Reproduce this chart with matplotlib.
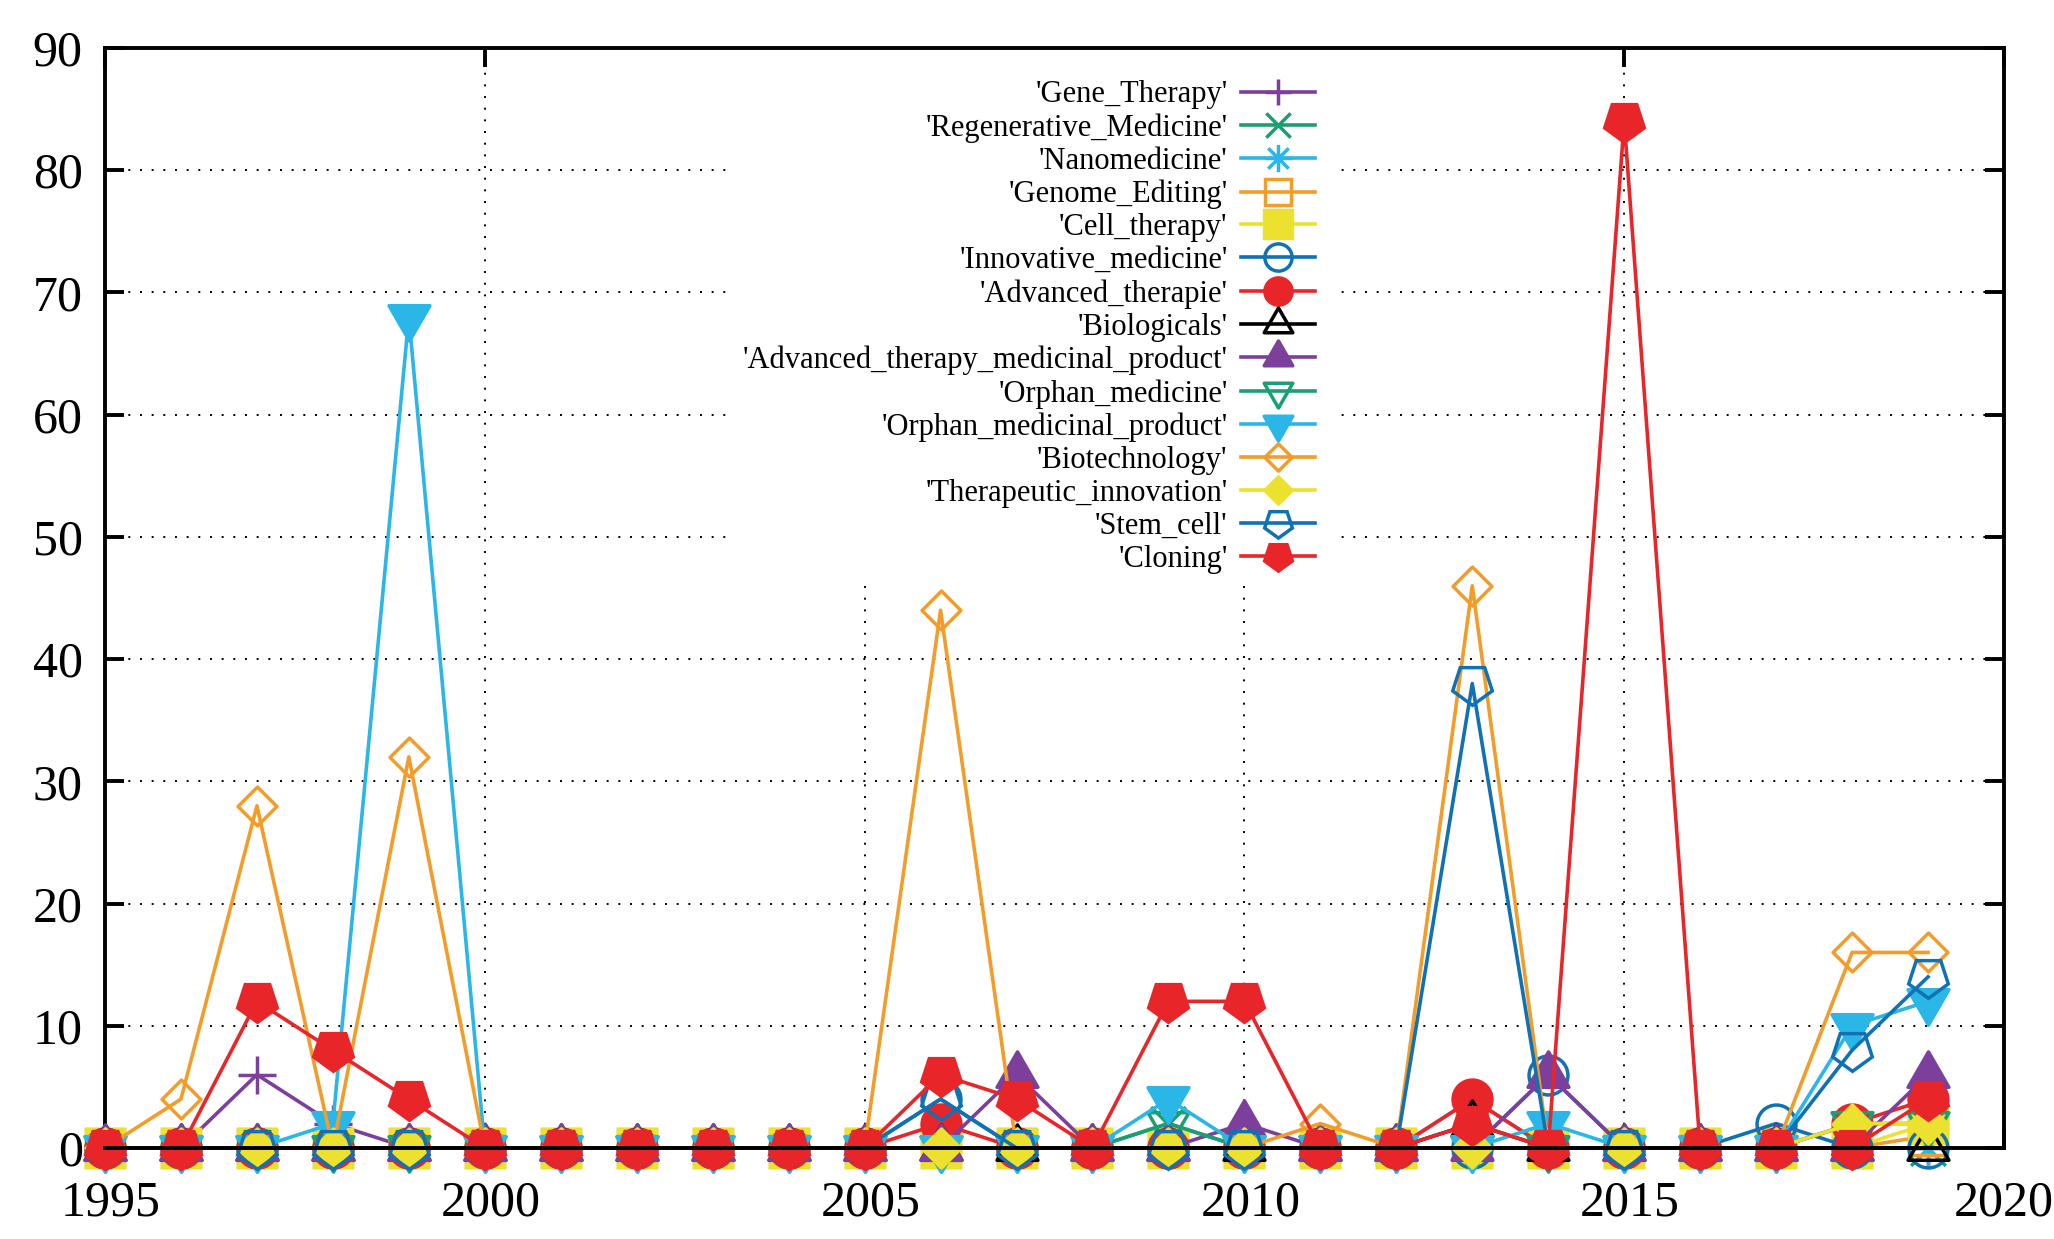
import matplotlib
matplotlib.use('Agg')
import matplotlib.pyplot as plt
from matplotlib.path import Path
from matplotlib.patches import Rectangle
from matplotlib.transforms import ScaledTranslation

plt.rcParams['font.family'] = ['Liberation Serif', 'DejaVu Serif']

years = list(range(1995, 2020))

gene_therapy           = [0,0,6,2,0, 0,0,0,0,0, 0,0,0,0,0, 0,0,0,0,0, 0,0,0,0,0]
regenerative_medicine  = [0,0,0,0,0, 0,0,0,0,0, 0,0,0,0,2, 0,0,0,0,0, 0,0,0,0,0]
nanomedicine           = [0,0,0,0,0, 0,0,0,0,0, 0,0,0,0,0, 0,0,0,4,0, 0,0,0,0,0]
genome_editing         = [0,0,0,0,0, 0,0,0,0,0, 0,0,0,0,0, 0,0,0,0,0, 0,0,0,0,1]
cell_therapy           = [0,0,0,0,0, 0,0,0,0,0, 0,0,0,0,0, 0,0,0,0,0, 0,0,0,0,2]
innovative_medicine    = [0,0,0,0,0, 0,0,0,0,0, 0,4,0,0,0, 0,0,0,0,6, 0,0,2,0,0]
advanced_therapie      = [0,0,0,0,0, 0,0,0,0,0, 0,2,0,0,0, 0,0,0,4,0, 0,0,0,2,4]
biologicals            = [0,0,0,0,0, 0,0,0,0,0, 0,0,0,0,0, 0,0,0,2,0, 0,0,0,0,0]
atmp                   = [0,0,0,0,0, 0,0,0,0,0, 0,0,6,0,0, 2,0,0,0,6, 0,0,0,0,6]
orphan_medicine        = [0,0,0,0,0, 0,0,0,0,0, 0,0,0,0,2, 0,0,0,0,0, 0,0,0,2,2]
orphan_medicinal_prod  = [0,0,0,2,68, 0,0,0,0,0, 0,0,0,0,4, 0,0,0,0,2, 0,0,0,10,12]
biotechnology          = [0,4,28,0,32, 0,0,0,0,0, 0,44,0,0,0, 0,2,0,46,0, 0,0,0,16,16]
therapeutic_innovation = [0,0,0,0,0, 0,0,0,0,0, 0,0,0,0,0, 0,0,0,0,0, 0,0,0,2,2]
stem_cell              = [0,0,0,0,0, 0,0,0,0,0, 0,4,0,0,0, 0,0,0,38,0, 0,0,0,8,14]
cloning                = [0,0,12,8,4, 0,0,0,0,0, 0,6,4,0,12, 12,0,0,2,0, 84,0,0,0,4]

labels = ["'Gene_Therapy'", "'Regenerative_Medicine'", "'Nanomedicine'",
          "'Genome_Editing'", "'Cell_therapy'", "'Innovative_medicine'",
          "'Advanced_therapie'", "'Biologicals'",
          "'Advanced_therapy_medicinal_product'", "'Orphan_medicine'",
          "'Orphan_medicinal_product'", "'Biotechnology'",
          "'Therapeutic_innovation'", "'Stem_cell'", "'Cloning'"]
data = [gene_therapy, regenerative_medicine, nanomedicine, genome_editing,
        cell_therapy, innovative_medicine, advanced_therapie, biologicals,
        atmp, orphan_medicine, orphan_medicinal_prod, biotechnology,
        therapeutic_innovation, stem_cell, cloning]

palette = ['#7d3f9c', '#1a9e74', '#2bb6e8', '#f29d2a', '#ece12e',
           '#1071b3', '#e8262a', '#000000']

# marker paths
plus = Path([(-1, 0), (1, 0), (0, -1), (0, 1)],
            [Path.MOVETO, Path.LINETO, Path.MOVETO, Path.LINETO])
cross = Path([(-1, -1), (1, 1), (-1, 1), (1, -1)],
             [Path.MOVETO, Path.LINETO, Path.MOVETO, Path.LINETO])
ast = Path([(-1, 0), (1, 0), (0, -1), (0, 1),
            (-0.75, -0.75), (0.75, 0.75), (-0.75, 0.75), (0.75, -0.75)],
           [Path.MOVETO, Path.LINETO] * 4)
tri_up = Path([(0, 1.0), (-0.866, -0.5), (0.866, -0.5), (0, 1.0)],
              [Path.MOVETO, Path.LINETO, Path.LINETO, Path.CLOSEPOLY])
tri_dn = Path([(0, -1.0), (-0.866, 0.5), (0.866, 0.5), (0, -1.0)],
              [Path.MOVETO, Path.LINETO, Path.LINETO, Path.CLOSEPOLY])
diamond = Path([(0, 1), (1, 0), (0, -1), (-1, 0), (0, 1)],
               [Path.MOVETO, Path.LINETO, Path.LINETO, Path.LINETO, Path.CLOSEPOLY])
pent = (5, 0, 180)

# (marker, filled, size in pt)
mstyles = [(plus, False, 27), (cross, False, 25), (ast, False, 28),
           ('s', False, 27), ('s', True, 28), ('o', False, 28),
           ('o', True, 28), (tri_up, False, 34), (tri_up, True, 34),
           (tri_dn, False, 34), (tri_dn, True, 34), (diamond, False, 28),
           (diamond, True, 28), (pent, False, 30), (pent, True, 30)]

fig = plt.figure(figsize=(20.54, 12.39), dpi=100)
ax = fig.add_axes([105/2054, 1 - 1148/1239, 1899/2054, 1100/1239])

lw = 2.6
handles = []
for i, (vals, lab) in enumerate(zip(data, labels)):
    col = palette[i % 8]
    mk, filled, ms = mstyles[i]
    ln, = ax.plot(years, vals, color=col, lw=lw, marker=mk, markersize=ms,
                  markerfacecolor=col if filled else 'none',
                  markeredgecolor=col, markeredgewidth=2.5,
                  clip_on=False, zorder=3, label=lab)
    handles.append(ln)

ax.set_xlim(1995, 2020)
ax.set_ylim(0, 90)
ax.set_xticks(range(1995, 2021, 5))
ax.set_yticks(range(0, 91, 10))
ax.set_axisbelow(True)
ax.grid(True, color='black', linestyle=(0, (1, 5)), linewidth=1.4)
for s in ax.spines.values():
    s.set_linewidth(2.8)
ax.spines['bottom'].set_zorder(10)
ax.tick_params(direction='in', length=14, width=2.8, top=True, right=True,
               labelsize=36)
ax.tick_params(axis='x', pad=23)
ax.tick_params(axis='y', pad=16)
shift = ScaledTranslation(6/100, 0, fig.dpi_scale_trans)
for t in ax.get_xticklabels()[:-1]:
    t.set_transform(t.get_transform() + shift)

# white key area hiding the grid
ax.add_patch(Rectangle((0.3275, 0.518), 0.3207, 0.482, transform=ax.transAxes,
                       facecolor='white', edgecolor='none', zorder=1))

leg = ax.legend(handles=handles, loc='upper right', markerfirst=False,
                frameon=False, fontsize=22, handlelength=2.4,
                handletextpad=0.45, labelspacing=0.13, borderpad=0,
                markerscale=0.7, numpoints=1,
                bbox_to_anchor=(1330/2054, 1 - 65/1239),
                bbox_transform=fig.transFigure)
leg.set_zorder(5)

fig.savefig('out.png', dpi=100)
